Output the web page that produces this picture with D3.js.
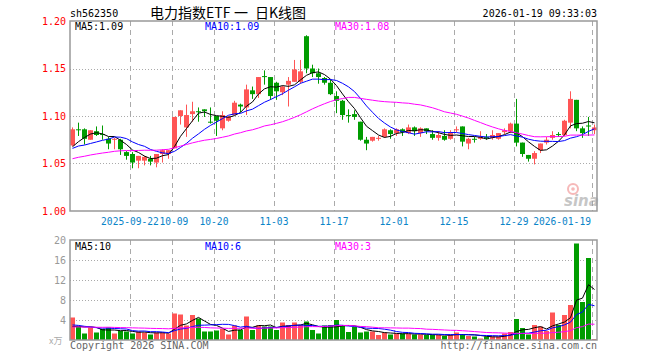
<!DOCTYPE html>
<html>
<head>
<meta charset="utf-8">
<script src="https://cdn.jsdelivr.net/npm/d3@7"></script>
<style>
body { margin: 0; background: #fff; }
svg text { font-family: "DejaVu Sans Mono", monospace; }
</style>
</head>
<body>
<svg id="chart" width="660" height="360"></svg>
<script>
// trading days shown, 2025-09-08 .. 2026-01-19
const dates = [
  '09-08','09-09','09-10','09-11','09-12','09-15','09-16','09-17','09-18','09-19',
  '09-22','09-23','09-24','09-25','09-26','09-29','09-30',
  '10-09','10-10','10-13','10-14','10-15','10-16','10-17','10-20','10-21','10-22',
  '10-23','10-24','10-27','10-28','10-29','10-30','10-31',
  '11-03','11-04','11-05','11-06','11-07','11-10','11-11','11-12','11-13','11-14',
  '11-17','11-18','11-19','11-20','11-21','11-24','11-25','11-26','11-27','11-28',
  '12-01','12-02','12-03','12-04','12-05','12-08','12-09','12-10','12-11','12-12',
  '12-15','12-16','12-17','12-18','12-19','12-22','12-23','12-24','12-25','12-26',
  '12-29','12-30','12-31',
  '01-05','01-06','01-07','01-08','01-09','01-12','01-13','01-14','01-15','01-16','01-19'
];

const opens = [
  1.069,1.086,1.086,1.075,1.084,1.081,1.076,1.075,1.075,1.062,
  1.060,1.053,1.053,1.055,1.051,1.060,1.060,1.066,1.100,1.088,
  1.102,1.105,1.107,1.094,1.100,1.087,1.095,1.101,1.112,1.109,
  1.127,1.123,1.142,1.141,1.135,1.125,1.133,1.136,1.136,1.184,
  1.150,1.145,1.140,1.135,1.121,1.116,1.101,1.102,1.094,1.075,
  1.074,1.076,1.078,1.085,1.082,1.086,1.082,1.088,1.082,1.087,
  1.081,1.077,1.079,1.076,1.085,1.089,1.071,1.076,1.076,1.078,
  1.077,1.076,1.083,1.084,1.092,1.072,1.059,1.055,1.064,1.072,
  1.077,1.081,1.080,1.093,1.117,1.087,1.090,1.085
];
const highs = [
  1.088,1.093,1.087,1.085,1.089,1.090,1.078,1.077,1.076,1.063,
  1.062,1.058,1.058,1.058,1.060,1.065,1.064,1.099,1.106,1.112,
  1.115,1.109,1.107,1.109,1.100,1.105,1.100,1.116,1.113,1.133,
  1.131,1.141,1.148,1.141,1.136,1.132,1.141,1.159,1.159,1.185,
  1.154,1.150,1.141,1.138,1.126,1.117,1.107,1.106,1.094,1.078,
  1.078,1.079,1.087,1.086,1.087,1.087,1.091,1.089,1.088,1.087,
  1.085,1.084,1.085,1.085,1.089,1.089,1.077,1.078,1.084,1.081,
  1.085,1.082,1.087,1.093,1.118,1.072,1.059,1.063,1.071,1.078,
  1.084,1.083,1.096,1.126,1.117,1.089,1.099,1.091
];
const lows = [
  1.068,1.079,1.070,1.075,1.079,1.075,1.065,1.065,1.059,1.054,
  1.045,1.045,1.048,1.048,1.046,1.051,1.055,1.066,1.091,1.078,
  1.094,1.094,1.099,1.092,1.079,1.085,1.094,1.101,1.104,1.101,
  1.118,1.119,1.133,1.117,1.117,1.122,1.110,1.136,1.134,1.145,
  1.141,1.134,1.133,1.122,1.103,1.096,1.093,1.096,1.074,1.064,
  1.073,1.074,1.077,1.076,1.079,1.079,1.081,1.079,1.078,1.081,
  1.075,1.074,1.074,1.075,1.083,1.068,1.065,1.072,1.075,1.075,
  1.075,1.075,1.081,1.082,1.068,1.057,1.052,1.049,1.061,1.070,
  1.075,1.078,1.079,1.087,1.084,1.077,1.079,1.081
];
const closes = [
  1.086,1.085,1.076,1.085,1.080,1.080,1.071,1.076,1.065,1.058,
  1.051,1.058,1.057,1.052,1.060,1.064,1.064,1.099,1.106,1.101,
  1.105,1.104,1.105,1.093,1.095,1.101,1.099,1.114,1.110,1.128,
  1.123,1.141,1.141,1.121,1.126,1.131,1.137,1.149,1.147,1.150,
  1.145,1.141,1.135,1.123,1.116,1.101,1.100,1.099,1.075,1.071,
  1.078,1.077,1.086,1.081,1.086,1.083,1.088,1.084,1.087,1.084,
  1.077,1.080,1.075,1.082,1.086,1.073,1.076,1.075,1.078,1.077,
  1.080,1.082,1.085,1.092,1.072,1.060,1.055,1.061,1.071,1.075,
  1.080,1.080,1.095,1.118,1.087,1.082,1.089,1.088
];
// volume, 万手
const volumes = [
  4.5,2.7,1.3,2.5,1.5,2.2,2.5,1.3,1.8,1.7,
  1.3,1.7,1.5,1.1,1.5,1.5,1.3,5.3,5.1,2.9,
  5.0,4.3,1.7,1.7,1.9,2.2,1.1,2.9,2.0,4.7,
  2.0,2.9,2.7,2.7,2.0,3.5,3.0,3.5,3.0,3.7,
  2.0,1.3,2.9,3.0,4.0,3.0,1.6,2.6,1.5,1.7,
  1.7,1.0,1.5,1.1,1.3,1.3,1.2,1.1,1.1,1.0,
  1.0,1.0,0.8,1.0,1.5,1.2,0.8,0.7,0.3,0.7,
  0.7,0.7,1.3,1.6,4.2,2.4,1.1,3.0,2.7,1.8,
  5.5,3.0,5.0,7.0,19.3,7.6,16.4,0.2
];
// sessions before the window, only used for the moving averages
const priorCloses = [
  1.040,1.043,1.045,1.048,1.050,1.047,1.046,1.049,1.051,1.053,
  1.052,1.050,1.054,1.056,1.051,1.049,1.052,1.053,1.050,1.053,
  1.060,1.066,1.068,1.064,1.063,1.058,1.054,1.067,1.073
];
const priorVolumes = [
  2.2,2.6,2.1,2.8,2.4,2.0,2.5,2.7,2.3,2.4,
  2.6,2.2,2.5,2.3,2.1,2.6,2.4,2.5,2.3,2.5,
  3.6,3.1,3.8,3.0,3.2,2.4,2.0,2.3,2.2
];

const tickDates = ['09-22','10-09','10-20','11-03','11-17','12-01','12-15','12-29','01-19'];
const tickLabels = ['2025-09-22','10-09','10-20','11-03','11-17','12-01','12-15','12-29','2026-01-19'];
const priceTicks = [1.00, 1.05, 1.10, 1.15, 1.20];
const volumeTicks = [4, 8, 12, 16, 20];

const maPeriods = [5, 10, 30];
const maColors = ['#000000', '#0000ff', '#ff00ff'];

const UP = '#ff5555', DOWN = '#009c00', GRID = '#aaaaaa', FRAME = '#999999';

const svg = d3.select('#chart');

const x = d3.scaleBand().domain(dates).range([70, 598]);
const yPrice = d3.scaleLinear().domain([1.00, 1.20]).range([211, 21]);
const yVol = d3.scaleLinear().domain([0, 20]).range([340, 240]);

function movingAvg(prior, vals, n) {
  const all = prior.concat(vals);
  return vals.map((v, i) => {
    const end = prior.length + i + 1;
    return d3.mean(all.slice(end - n, end));
  });
}

const priceMAs = maPeriods.map(n => movingAvg(priorCloses, closes, n));
const volMAs = maPeriods.map(n => movingAvg(priorVolumes, volumes, n));

const cx = d => x(d) + 2.5;

// header
svg.append('text').attr('x', 70).attr('y', 17).attr('font-size', 10).attr('fill', '#000').text('sh562350');
const titleParts = [['电力指数ETF', 150], ['一', 234], ['日K线图', 255]];
titleParts.forEach(([t, tx]) => {
  svg.append('text').attr('x', tx).attr('y', 18).attr('font-size', 14).attr('fill', '#000')
    .style('font-family', '"Noto Sans CJK SC", sans-serif').text(t);
});
svg.append('text').attr('x', 597).attr('y', 17).attr('font-size', 10).attr('fill', '#000')
  .attr('text-anchor', 'end').text('2026-01-19 09:33:03');

function drawGrid(yScale, ticks, top, bottom) {
  const g = svg.append('g');
  g.selectAll('line.h').data(ticks).enter().append('line')
    .attr('x1', 70).attr('x2', 597)
    .attr('y1', d => Math.round(yScale(d)) + 0.5).attr('y2', d => Math.round(yScale(d)) + 0.5)
    .attr('stroke', GRID).attr('stroke-dasharray', '1,2');
  g.selectAll('line.v').data(tickDates).enter().append('line')
    .attr('x1', d => x(d) + 0.5).attr('x2', d => x(d) + 0.5)
    .attr('y1', top).attr('y2', bottom)
    .attr('stroke', GRID).attr('stroke-dasharray', '5,4');
}

drawGrid(yPrice, [1.05, 1.10, 1.15], 21, 211);
drawGrid(yVol, [4, 8, 12, 16], 240, 340);

// sina watermark
const wm = svg.append('g').attr('opacity', 0.55);
wm.append('circle').attr('cx', 573).attr('cy', 189).attr('r', 5).attr('fill', 'none').attr('stroke', '#f08080').attr('stroke-width', 2);
wm.append('circle').attr('cx', 573).attr('cy', 189).attr('r', 1.8).attr('fill', '#f08080');
wm.append('text').attr('x', 564).attr('y', 206).attr('font-size', 15).attr('font-weight', 'bold')
  .attr('font-style', 'italic').style('font-family', '"DejaVu Sans", sans-serif')
  .attr('fill', '#999').text('sina');

// candles
const isUp = i => closes[i] >= opens[i];
const candles = svg.append('g').selectAll('g').data(dates).enter().append('g');
candles.append('line')
  .attr('x1', d => cx(d)).attr('x2', d => cx(d))
  .attr('y1', (d, i) => yPrice(highs[i])).attr('y2', (d, i) => yPrice(lows[i]))
  .attr('stroke', (d, i) => isUp(i) ? UP : DOWN);
candles.append('rect')
  .attr('x', d => x(d)).attr('width', 5)
  .attr('y', (d, i) => yPrice(Math.max(opens[i], closes[i])))
  .attr('height', (d, i) => Math.max(1, Math.abs(yPrice(opens[i]) - yPrice(closes[i]))))
  .attr('fill', (d, i) => isUp(i) ? UP : DOWN);

// volume bars
svg.append('g').selectAll('rect').data(dates).enter().append('rect')
  .attr('x', d => x(d)).attr('width', 5)
  .attr('y', (d, i) => yVol(volumes[i]))
  .attr('height', (d, i) => yVol(0) - yVol(volumes[i]))
  .attr('fill', (d, i) => isUp(i) ? UP : DOWN);

// moving average lines
function drawLines(series, yScale) {
  series.forEach((vals, k) => {
    const line = d3.line().x((v, i) => cx(dates[i])).y(v => yScale(v));
    svg.append('path').datum(vals).attr('d', line)
      .attr('fill', 'none').attr('stroke', maColors[k]).attr('stroke-width', 1);
  });
}
drawLines(priceMAs, yPrice);
drawLines(volMAs, yVol);

// frames
svg.append('rect').attr('x', 70).attr('y', 21).attr('width', 527).attr('height', 190)
  .attr('fill', 'none').attr('stroke', FRAME).attr('stroke-width', 1.5);
svg.append('rect').attr('x', 70).attr('y', 240).attr('width', 527).attr('height', 100)
  .attr('fill', 'none').attr('stroke', FRAME).attr('stroke-width', 1.5);

// MA legends
const labelX = [75, 205, 335];
const last = arr => arr[arr.length - 1];
maPeriods.forEach((n, k) => {
  svg.append('text').attr('x', labelX[k]).attr('y', 30).attr('font-size', 10).attr('fill', maColors[k])
    .text('MA' + n + ':' + d3.format('.2f')(last(priceMAs[k])));
  svg.append('text').attr('x', labelX[k]).attr('y', 250).attr('font-size', 10).attr('fill', maColors[k])
    .text('MA' + n + ':' + Math.floor(last(volMAs[k])));
});

// price axis labels
svg.append('g').selectAll('text').data(priceTicks).enter().append('text')
  .attr('x', 66).attr('y', d => yPrice(d)).attr('dy', '0.35em')
  .attr('text-anchor', 'end').attr('font-size', 10).attr('fill', '#ff0000')
  .text(d => d3.format('.2f')(d));

// volume axis labels
svg.append('g').selectAll('text').data(volumeTicks).enter().append('text')
  .attr('x', 66).attr('y', d => yVol(d)).attr('dy', '0.35em')
  .attr('text-anchor', 'end').attr('font-size', 10).attr('fill', '#999')
  .text(d => d);
svg.append('text').attr('x', 49).attr('y', 344).attr('font-size', 9).attr('fill', '#aaa')
  .style('font-family', '"Noto Sans CJK SC", sans-serif').text('x万');

// date labels: centred on the gridline, pushed right if they would touch the previous one
const charW = 5.78;
let prevEnd = -Infinity;
const labelPos = tickDates.map((d, i) => {
  const w = tickLabels[i].length * charW;
  let sx = Math.min(x(d) - w / 2, 591 - w);
  if (sx < prevEnd + 0.5) sx = prevEnd + 0.5;
  prevEnd = sx + w;
  return sx;
});
svg.append('g').selectAll('text').data(tickDates).enter().append('text')
  .attr('x', (d, i) => labelPos[i])
  .attr('y', 225).attr('font-size', 9.6).attr('fill', '#0a84c8')
  .text((d, i) => tickLabels[i]);

// footer
svg.append('text').attr('x', 70).attr('y', 349).attr('font-size', 10).attr('fill', '#666').text('Copyright 2026 SINA.COM');
svg.append('text').attr('x', 597).attr('y', 349).attr('font-size', 10).attr('fill', '#666')
  .attr('text-anchor', 'end').text('http://finance.sina.com.cn');
</script>
</body>
</html>
